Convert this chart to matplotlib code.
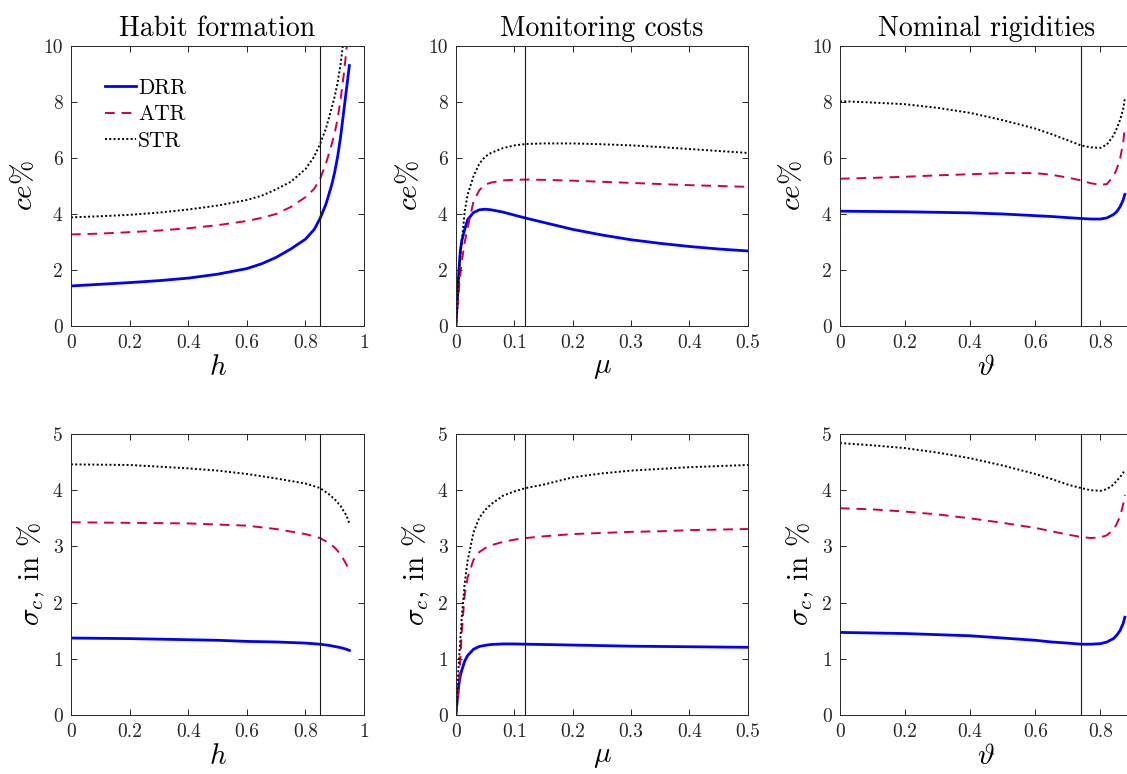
import matplotlib
matplotlib.use('Agg')
import matplotlib.pyplot as plt
from matplotlib.ticker import FuncFormatter

plt.rcParams['font.family'] = 'serif'
plt.rcParams['font.serif'] = ['cmr10']
plt.rcParams['mathtext.fontset'] = 'cm'
plt.rcParams['axes.formatter.use_mathtext'] = True

# ---- data ----
# habit formation, consumption equivalent
h_ce = [0, 0.1, 0.2, 0.3, 0.4, 0.5, 0.6, 0.65, 0.7, 0.75, 0.8, 0.83, 0.85, 0.87, 0.89, 0.9, 0.91, 0.92, 0.93, 0.94, 0.95]
drr_h_ce = [1.43, 1.49, 1.55, 1.62, 1.71, 1.85, 2.05, 2.22, 2.45, 2.75, 3.1, 3.45, 3.84, 4.35, 5.05, 5.5, 6.05, 6.75, 7.6, 8.45, 9.3]
atr_h_ce = [3.27, 3.3, 3.35, 3.41, 3.49, 3.6, 3.75, 3.86, 4.0, 4.25, 4.6, 4.9, 5.25, 5.8, 6.5, 6.9, 7.4, 8.1, 8.9, 9.85, 11.0]
str_h_ce = [3.88, 3.92, 3.97, 4.05, 4.16, 4.3, 4.5, 4.65, 4.88, 5.15, 5.6, 6.05, 6.5, 7.05, 7.8, 8.2, 8.7, 9.35, 10.2, 11.2, 12.4]

# monitoring costs, consumption equivalent
mu_ce = [0, 0.0025, 0.005, 0.0075, 0.01, 0.015, 0.02, 0.03, 0.04, 0.05, 0.06, 0.08, 0.1, 0.12, 0.15, 0.2, 0.25, 0.3, 0.35, 0.4, 0.45, 0.5]
drr_mu_ce = [0, 1.0, 2.0, 2.7, 3.05, 3.45, 3.8, 4.05, 4.15, 4.17, 4.15, 4.07, 3.96, 3.85, 3.7, 3.45, 3.25, 3.08, 2.95, 2.84, 2.75, 2.68]
atr_mu_ce = [0, 0.7, 1.3, 1.85, 2.3, 3.0, 3.5, 4.45, 4.85, 5.05, 5.12, 5.2, 5.22, 5.23, 5.22, 5.19, 5.15, 5.11, 5.07, 5.03, 5.0, 4.97]
str_mu_ce = [0, 0.9, 1.8, 2.5, 3.0, 4.1, 4.7, 5.35, 5.8, 6.05, 6.18, 6.35, 6.45, 6.5, 6.52, 6.52, 6.49, 6.45, 6.39, 6.32, 6.25, 6.18]

# nominal rigidities, consumption equivalent
th_ce = [0, 0.1, 0.2, 0.3, 0.4, 0.5, 0.6, 0.65, 0.7, 0.74, 0.77, 0.8, 0.82, 0.84, 0.85, 0.86, 0.87, 0.875]
drr_th_ce = [4.1, 4.09, 4.08, 4.06, 4.04, 4.0, 3.94, 3.91, 3.87, 3.84, 3.82, 3.82, 3.86, 3.98, 4.08, 4.25, 4.5, 4.7]
atr_th_ce = [5.26, 5.29, 5.33, 5.38, 5.42, 5.46, 5.46, 5.4, 5.3, 5.2, 5.1, 5.04, 5.07, 5.35, 5.6, 5.95, 6.55, 7.1]
str_th_ce = [8.03, 7.98, 7.92, 7.79, 7.61, 7.35, 7.05, 6.85, 6.63, 6.45, 6.38, 6.36, 6.48, 6.8, 7.05, 7.35, 7.75, 8.12]

# habit formation, consumption volatility
h_sd = [0, 0.2, 0.4, 0.5, 0.6, 0.7, 0.8, 0.85, 0.88, 0.9, 0.92, 0.94, 0.95]
drr_h_sd = [1.37, 1.36, 1.34, 1.33, 1.31, 1.3, 1.28, 1.26, 1.24, 1.22, 1.2, 1.17, 1.15]
atr_h_sd = [3.43, 3.42, 3.41, 3.39, 3.37, 3.31, 3.22, 3.15, 3.06, 2.98, 2.86, 2.68, 2.55]
str_h_sd = [4.46, 4.45, 4.39, 4.35, 4.29, 4.21, 4.12, 4.04, 3.93, 3.84, 3.72, 3.55, 3.41]

# monitoring costs, consumption volatility
mu_sd = [0, 0.0025, 0.005, 0.0075, 0.01, 0.015, 0.02, 0.03, 0.04, 0.05, 0.06, 0.08, 0.1, 0.12, 0.15, 0.2, 0.25, 0.3, 0.35, 0.4, 0.45, 0.5]
drr_mu_sd = [0, 0.3, 0.55, 0.7, 0.8, 0.96, 1.06, 1.17, 1.22, 1.24, 1.255, 1.265, 1.265, 1.26, 1.255, 1.245, 1.235, 1.225, 1.22, 1.215, 1.21, 1.205]
atr_mu_sd = [0, 0.25, 0.5, 1.0, 1.5, 2.15, 2.45, 2.76, 2.9, 2.97, 3.02, 3.08, 3.12, 3.15, 3.18, 3.22, 3.24, 3.26, 3.27, 3.29, 3.3, 3.31]
str_mu_sd = [0, 0.5, 0.95, 1.35, 1.75, 2.35, 2.75, 3.25, 3.51, 3.65, 3.75, 3.9, 3.98, 4.04, 4.1, 4.23, 4.3, 4.35, 4.38, 4.41, 4.43, 4.45]

# nominal rigidities, consumption volatility
th_sd = [0, 0.1, 0.2, 0.3, 0.4, 0.5, 0.6, 0.65, 0.7, 0.74, 0.77, 0.8, 0.82, 0.84, 0.85, 0.86, 0.87, 0.875]
drr_th_sd = [1.47, 1.46, 1.45, 1.43, 1.41, 1.37, 1.33, 1.3, 1.28, 1.26, 1.26, 1.27, 1.3, 1.36, 1.42, 1.5, 1.63, 1.74]
atr_th_sd = [3.68, 3.66, 3.62, 3.57, 3.5, 3.42, 3.33, 3.27, 3.21, 3.17, 3.15, 3.16, 3.2, 3.3, 3.4, 3.53, 3.75, 3.92]
str_th_sd = [4.84, 4.8, 4.75, 4.67, 4.57, 4.44, 4.29, 4.2, 4.1, 4.04, 4.0, 3.99, 4.02, 4.1, 4.17, 4.23, 4.31, 4.37]

# calibrated values (vertical lines)
h_cal = 0.85
mu_cal = 0.118
th_cal = 0.74

titles = ['Habit formation', 'Monitoring costs', 'Nominal rigidities']
xlabels = ['$h$', r'$\mu$', r'$\vartheta$']
ylabels = [r'$ce\%$', r'$\sigma_c$, in $\%$']
xlims = [(0, 1), (0, 0.5), (0, 0.9)]
xticks = [[0, 0.2, 0.4, 0.6, 0.8, 1], [0, 0.1, 0.2, 0.3, 0.4, 0.5], [0, 0.2, 0.4, 0.6, 0.8]]
cal = [h_cal, mu_cal, th_cal]

panels = [
    [(h_ce, drr_h_ce, atr_h_ce, str_h_ce), (mu_ce, drr_mu_ce, atr_mu_ce, str_mu_ce), (th_ce, drr_th_ce, atr_th_ce, str_th_ce)],
    [(h_sd, drr_h_sd, atr_h_sd, str_h_sd), (mu_sd, drr_mu_sd, atr_mu_sd, str_mu_sd), (th_sd, drr_th_sd, atr_th_sd, str_th_sd)],
]

BLUE = '#0000ff'
RED = '#d4003a'
AXC = '#262626'

fig = plt.figure(figsize=(11.27, 7.74), dpi=100)

lefts = [0.063, 0.4046, 0.7453]
widths = [0.260, 0.259, 0.260]
bottoms = [0.5788, 0.0762]
heights = [0.3618, 0.363]

fmt = FuncFormatter(lambda v, p: '%g' % v)

for r in range(2):
    for c in range(3):
        ax = fig.add_axes([lefts[c], bottoms[r], widths[c], heights[r]])
        x, d, a, s = panels[r][c]
        ax.plot(x, d, color=BLUE, lw=2.0, label='DRR')
        ax.plot(x, a, color=RED, lw=1.4, ls=(0, (5, 3.5)), label='ATR')
        ax.plot(x, s, color='black', lw=1.4, ls=(0, (1, 1.2)), label='STR')
        ax.axvline(cal[c], color='#1a1a1a', lw=0.8)

        ax.set_xlim(xlims[c])
        ax.set_xticks(xticks[c])
        ax.xaxis.set_major_formatter(fmt)
        if r == 0:
            ax.set_ylim(0, 10)
            ax.set_yticks([0, 2, 4, 6, 8, 10])
            ax.set_title(titles[c], fontsize=20, pad=7)
        else:
            ax.set_ylim(0, 5)
            ax.set_yticks([0, 1, 2, 3, 4, 5])
        ax.yaxis.set_major_formatter(fmt)

        ax.set_xlabel(xlabels[c], fontsize=21, labelpad=2)
        ax.set_ylabel(ylabels[r], fontsize=21, labelpad=4)

        ax.tick_params(direction='in', top=True, right=True, length=4, width=0.7,
                       labelsize=14, colors=AXC, pad=6)
        for sp in ax.spines.values():
            sp.set_color(AXC)
            sp.set_linewidth(0.7)

        if r == 0 and c == 0:
            ax.legend(loc='upper left', bbox_to_anchor=(0.115, 0.885), frameon=False,
                      fontsize=15.5, handlelength=1.45, handletextpad=0.1,
                      labelspacing=0.32, borderpad=0, borderaxespad=0)

fig.savefig('out.png', dpi=100)
